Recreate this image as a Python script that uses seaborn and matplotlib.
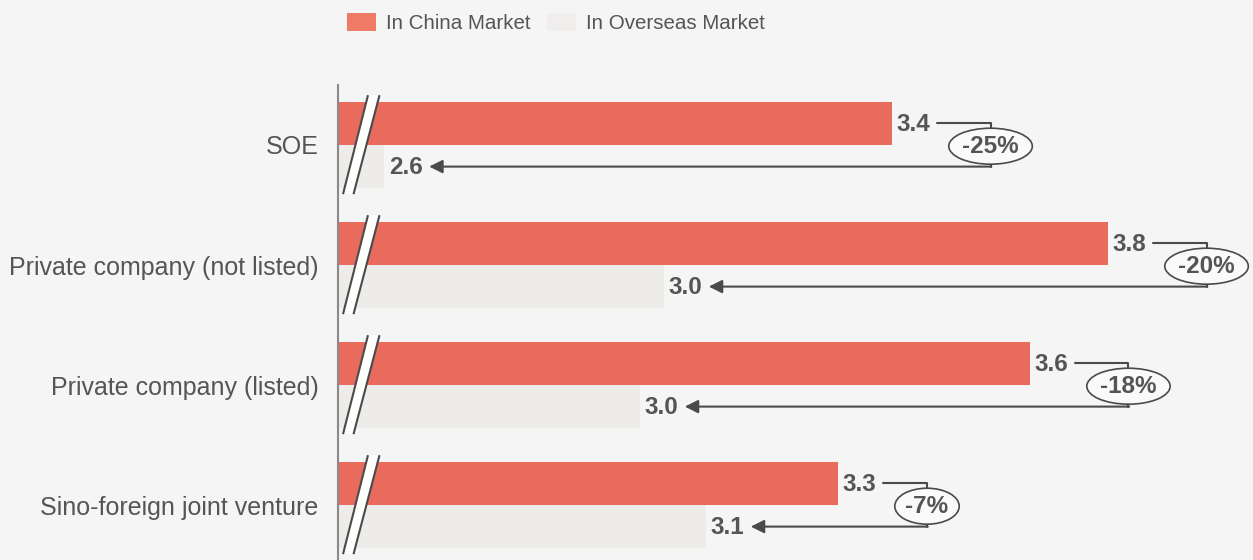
import matplotlib
matplotlib.use("Agg")
import matplotlib.pyplot as plt
import seaborn as sns
import pandas as pd
from matplotlib.patches import Patch, Polygon

categories = ["SOE", "Private company (not listed)", "Private company (listed)", "Sino-foreign joint venture"]
china = [3.40, 3.76, 3.63, 3.31]
overseas = [2.554, 3.02, 2.98, 3.09]
pct_labels = ["-25%", "-20%", "-18%", "-7%"]
series = ["In China Market", "In Overseas Market"]

bar_colors = ["#e86b5d", "#edece8"]
legend_colors = ["#ef7a66", "#efeeec"]
bg = "#f5f5f5"
txt = "#555555"
dark = "#4a4a4a"

df = pd.DataFrame({
    "category": categories * 2,
    "value": china + overseas,
    "market": [series[0]] * 4 + [series[1]] * 4,
})

sns.set_theme(style="white")
plt.rcParams["font.family"] = ["Liberation Sans", "DejaVu Sans"]

W, H = 1253, 560
fig = plt.figure(figsize=(W / 100, H / 100), dpi=100, facecolor=bg)
ax_left, ax_right, ax_top, ax_bot = 338, 1253, 85, 565
ax = fig.add_axes([ax_left / W, 1 - ax_bot / H, (ax_right - ax_left) / W, (ax_bot - ax_top) / H])
ax.set_facecolor(bg)

sns.barplot(data=df, y="category", x="value", hue="market", orient="h",
            palette=bar_colors, saturation=1, width=0.72, errorbar=None,
            legend=False, ax=ax, linewidth=0)

xmin, xmax = 2.477, 4.002
ax.set_xlim(xmin, xmax)
ax.set_ylim(3.5, -0.5)
px = (xmax - xmin) / (ax_right - ax_left)  # data units per pixel (x)

for s in ["top", "right", "bottom"]:
    ax.spines[s].set_visible(False)
ax.spines["left"].set_color("#8a8a8a")
ax.spines["left"].set_linewidth(1.5)
ax.set_xticks([])
ax.set_xlabel("")
ax.set_ylabel("")
ax.set_yticks(range(len(categories)))
ax.set_yticklabels(categories, fontsize=18, color=txt)
ax.tick_params(axis="y", which="major", length=0, pad=14)
ax.set_yticks([-0.5, 0.5, 1.5, 2.5], minor=True)
ax.tick_params(axis="y", which="minor", length=6, width=1.5, color="#8a8a8a", direction="out")

# percentage ellipses first (to measure their width)
pct_texts = []
for i in range(len(categories)):
    t = ax.text(china[i], i + 0.01, pct_labels[i], ha="center", va="center", fontsize=17.5,
                fontweight="bold", color=txt, zorder=8,
                bbox=dict(boxstyle="ellipse,pad=0.05", fc="#fafafa", ec=dark, lw=1.2))
    pct_texts.append(t)
fig.canvas.draw()
renderer = fig.canvas.get_renderer()

bw = 0.36
for i in range(len(categories)):
    yc = i - bw / 2
    yo = i + bw / 2
    # break marks
    y_bot, y_top = i + 0.41, i - 0.415
    xb1, xb2 = xmin + 5 * px, xmin + 15.5 * px
    xt1, xt2 = xmin + 30 * px, xmin + 41.5 * px
    ax.add_patch(Polygon([(xb1, y_bot), (xb2, y_bot), (xt2, y_top), (xt1, y_top)],
                         closed=True, facecolor="white", edgecolor="none", zorder=5))
    ax.plot([xb1, xt1], [y_bot, y_top], color=dark, lw=1.5, zorder=6, solid_capstyle="butt")
    ax.plot([xb2, xt2], [y_bot, y_top], color=dark, lw=1.5, zorder=6, solid_capstyle="butt")

    # value labels
    ax.text(china[i] + 5 * px, yc + 0.01, f"{china[i]:.1f}", ha="left", va="center",
            fontsize=17.5, fontweight="bold", color=txt, zorder=7)
    ax.text(overseas[i] + 5 * px, yo + 0.01, f"{overseas[i]:.1f}", ha="left", va="center",
            fontsize=17.5, fontweight="bold", color=txt, zorder=7)

    # ellipse position: left edge 57 px right of the China bar end
    ew = pct_texts[i].get_bbox_patch().get_window_extent(renderer).width
    vx = china[i] + (57 + ew / 2) * px
    pct_texts[i].set_x(vx)

    # connector
    ax.plot([china[i] + 45 * px, vx, vx], [yc, yc, yo], color=dark, lw=1.5, zorder=6)
    ax.annotate("", xy=(overseas[i] + 45 * px, yo), xytext=(vx + 0.75 * px, yo),
                arrowprops=dict(arrowstyle="-|>", color=dark, lw=1.5,
                                mutation_scale=20, shrinkA=0, shrinkB=0), zorder=6)

handles = [Patch(facecolor=c, edgecolor="none") for c in legend_colors]
fig.legend(handles, series, loc="upper left", bbox_to_anchor=(347 / W, 1 - 13 / H),
           ncol=2, frameon=False, fontsize=14.8, handlelength=1.4, handleheight=1.0,
           handletextpad=0.5, columnspacing=0.8, borderpad=0, borderaxespad=0,
           labelcolor=txt)

fig.savefig("out.png", dpi=100, facecolor=bg)
